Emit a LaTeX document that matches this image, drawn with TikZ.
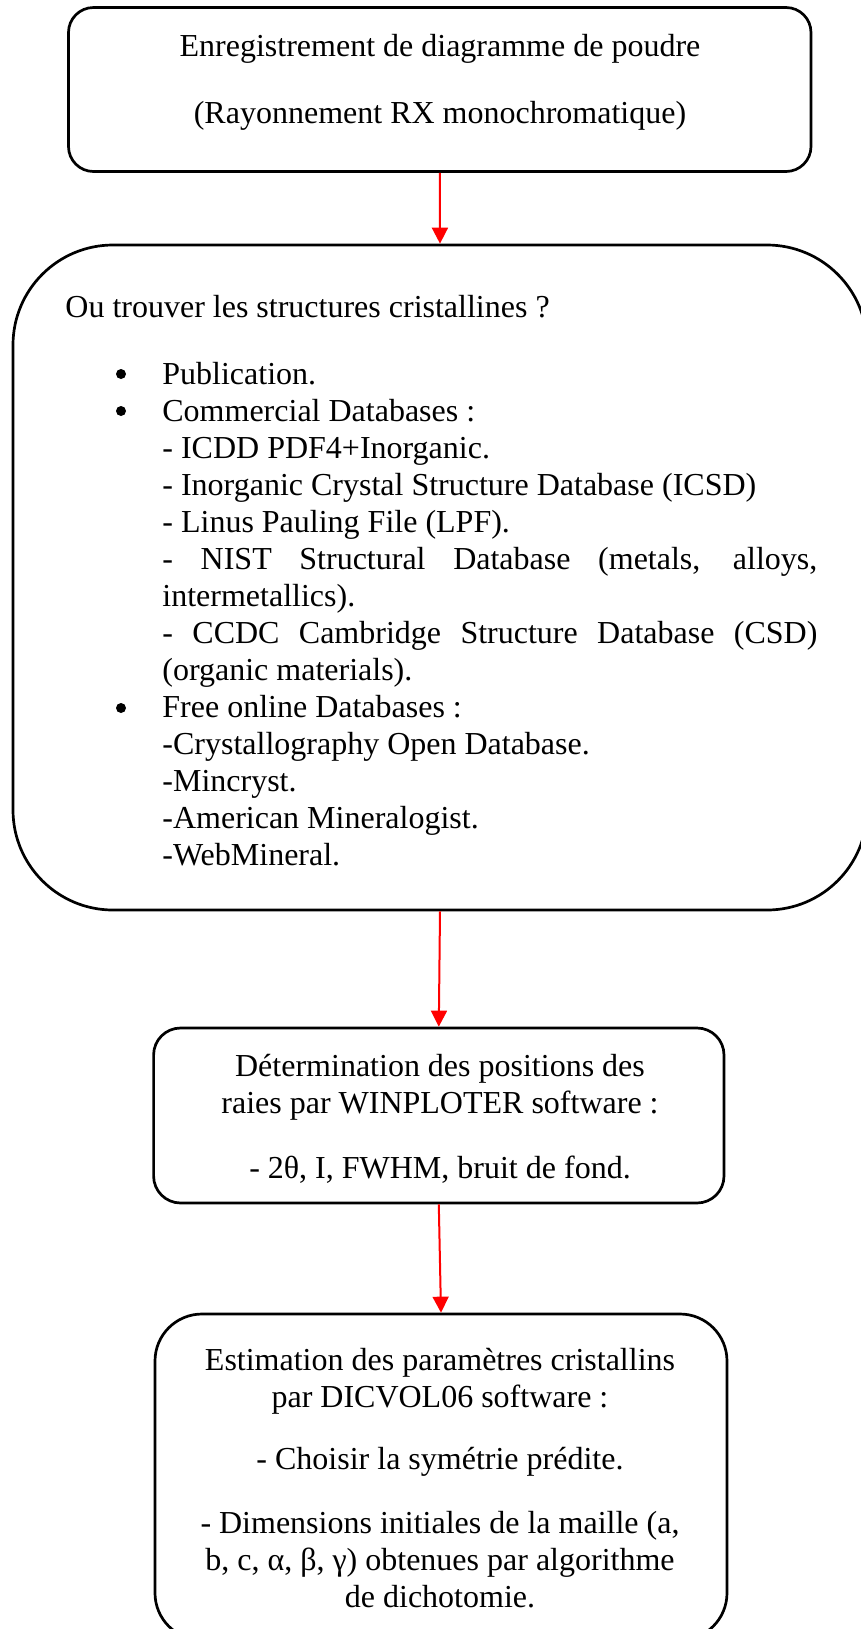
\documentclass[tikz,border=0pt]{standalone}
\usepackage{fontspec}
\setmainfont{Liberation Serif}
\usetikzlibrary{arrows.meta}
\newcommand{\jline}[1]{\makebox[\linewidth][s]{#1}}
\begin{document}
\begin{tikzpicture}[x=0.5pt,y=-0.5pt,
  roundbox/.style={draw=black, line width=1.35pt, inner sep=0pt},
  txt/.style={inner sep=0pt, font=\fontsize{16pt}{18.5pt}\selectfont, anchor=base},
  bulletdot/.style={circle, fill=black, draw=none, inner sep=0pt, minimum size=5pt},
  flowarrow/.style={draw=red, line width=1pt, -{Triangle[length=8pt,width=8pt]}}]
\useasboundingbox (0,0) rectangle (861,1629);
\clip (0,0) rectangle (861,1629);
% boxes
\node[roundbox, minimum width=371.25pt, minimum height=82pt, rounded corners=12.5pt] (b1) at (439.75,89.5) {};
\node[roundbox, minimum width=427pt, minimum height=332.5pt, rounded corners=50pt] (b2) at (440,577.5) {};
\node[roundbox, minimum width=285.2pt, minimum height=87.5pt, rounded corners=13.5pt] (b3) at (438.8,1115.5) {};
\node[roundbox, minimum width=286pt, minimum height=163pt, rounded corners=23.5pt] (b4) at (441,1477) {};
% texts
\node[txt] (t1a) at (440,56) {Enregistrement de diagramme de poudre};
\node[txt] (t1b) at (440,123) {(Rayonnement RX monochromatique)};
\node[txt, anchor=base west] (t2h) at (65,317) {Ou trouver les structures cristallines ?};
\node[bulletdot] (bu1) at (121,374) {};
\node[bulletdot] (bu2) at (121,411) {};
\node[bulletdot] (bu3) at (121,708) {};
\node[txt, anchor=base west] (t2l) at (162,384) {\parbox[t]{327.5pt}{%
Publication.\\
Commercial Databases :\\
- ICDD PDF4+Inorganic.\\
- Inorganic Crystal Structure Database (ICSD)\\
- Linus Pauling File (LPF).\\
\jline{- NIST Structural Database (metals, alloys,}\\
intermetallics).\\
\jline{- CCDC Cambridge Structure Database (CSD)}\\
(organic materials).\\
Free online Databases :\\
-Crystallography Open Database.\\
-Mincryst.\\
-American Mineralogist.\\
-WebMineral.}};
\node[txt] (t3a) at (440,1076) {\parbox[t]{300pt}{\centering Détermination des positions des\\ raies par WINPLOTER software :}};
\node[txt] (t3b) at (440,1178) {- 2θ, I, FWHM, bruit de fond.};
\node[txt] (t4a) at (440,1370) {\parbox[t]{300pt}{\centering Estimation des paramètres cristallins\\ par DICVOL06 software :}};
\node[txt] (t4b) at (440,1469) {- Choisir la symétrie prédite.};
\node[txt] (t4c) at (440,1533) {\parbox[t]{300pt}{\centering - Dimensions initiales de la maille (a,\\ b, c, α, β, γ) obtenues par algorithme\\ de dichotomie.}};
% arrows
\draw[flowarrow] (b1.south) -- (b2.north);
\draw[flowarrow] (b2.south) -- (b3.north);
\draw[flowarrow] (b3.south) -- (b4.north);
\end{tikzpicture}
\end{document}
